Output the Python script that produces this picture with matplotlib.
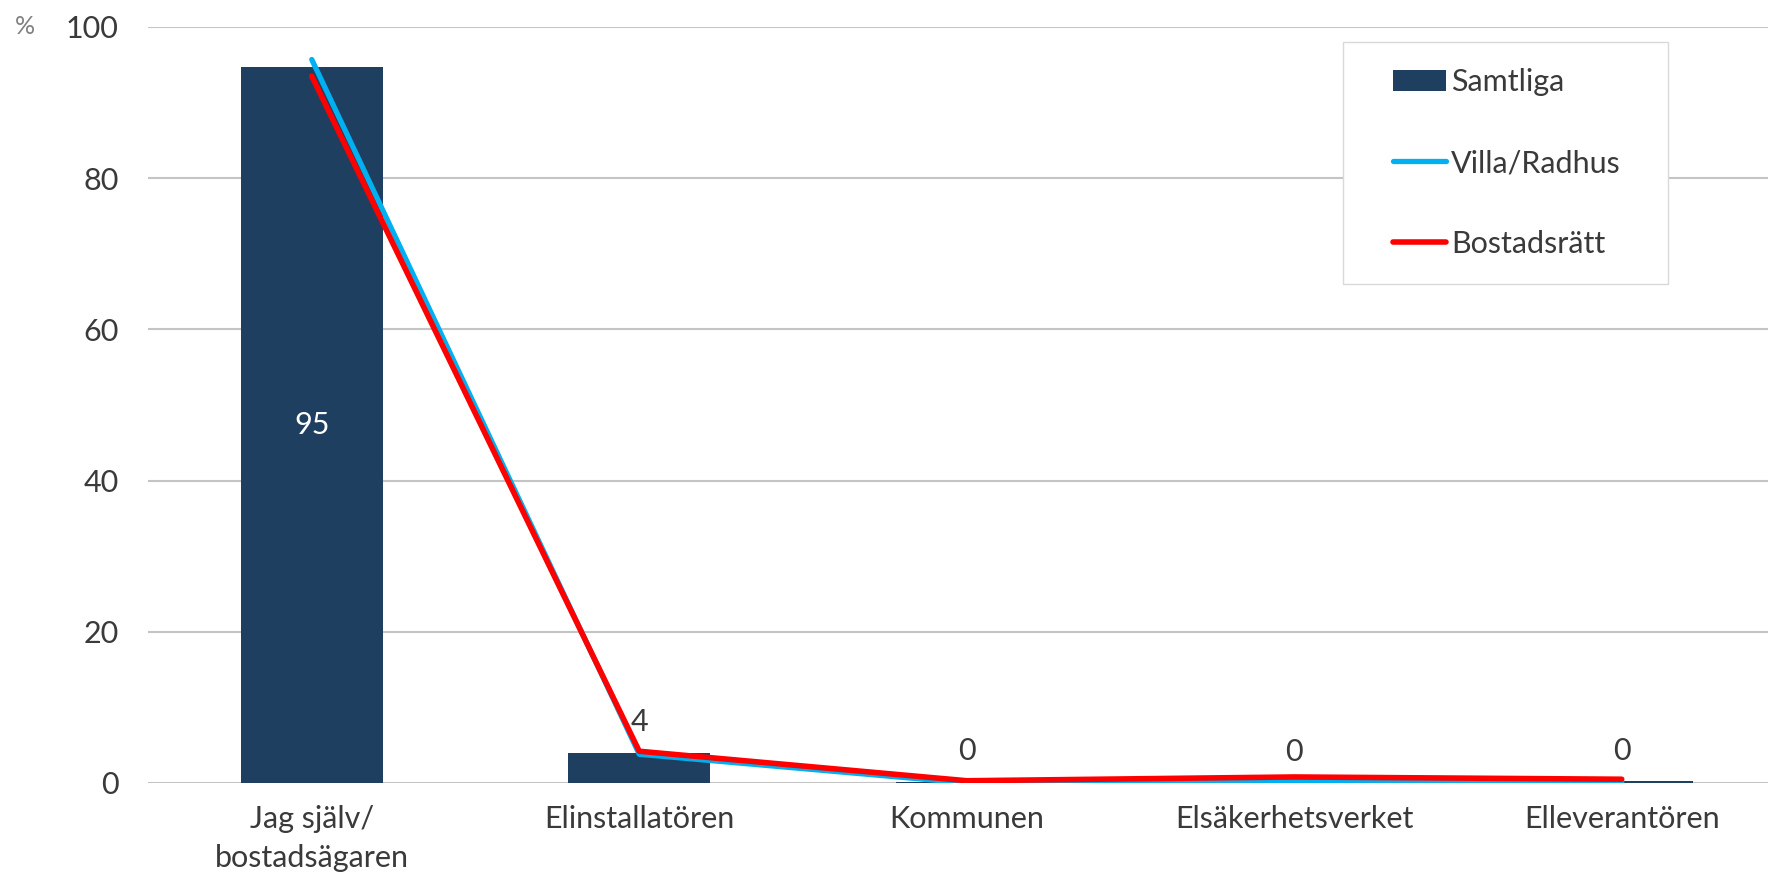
import matplotlib
matplotlib.use("Agg")
import matplotlib.pyplot as plt
from matplotlib.patches import Rectangle

plt.rcParams['font.family'] = ['Lato', 'DejaVu Sans']

categories = ["Jag själv/\nbostadsägaren", "Elinstallatören", "Kommunen", "Elsäkerhetsverket", "Elleverantören"]
samtliga = [94.7, 4.0, 0.15, 0.05, 0.2]
villa = [95.7, 3.8, 0.0, 0.2, 0.1]
bostadsratt = [93.5, 4.2, 0.3, 0.8, 0.5]
bar_labels = ["95", "4", "0", "0", "0"]
yticks = [0, 20, 40, 60, 80, 100]

W, H, DPI = 1768, 883, 100
FS = 22
fig = plt.figure(figsize=(W / DPI, H / DPI), dpi=DPI)
left = 148 / W
bottom = (H - 783) / H
top = (H - 27) / H
ax = fig.add_axes([left, bottom, 1 - left, top - bottom])

x = list(range(len(categories)))
text_color = "#3a3a3a"
bars = ax.bar(x, samtliga, width=0.434, color="#1F3F60", zorder=2, label="Samtliga")
l1, = ax.plot(x, villa, color="#00B0F0", lw=3.8, solid_capstyle="round", zorder=3, label="Villa/Radhus")
l2, = ax.plot(x, bostadsratt, color="#FF0000", lw=4.0, solid_capstyle="round", zorder=4, label="Bostadsrätt")

for i, (v, lab) in enumerate(zip(samtliga, bar_labels)):
    if i == 0:
        ax.text(i, v / 2, lab, ha="center", va="center", color="white", fontsize=FS, zorder=5)
    else:
        ax.text(i, v + 2.2, lab, ha="center", va="bottom", color=text_color, fontsize=FS, zorder=5)

ax.set_ylim(0, 100)
ax.set_xlim(-0.5, (W - 148) / 327.5 - 0.5)
ax.set_yticks(yticks)
ax.set_xticks(x)
ax.set_xticklabels(categories, fontsize=FS, color=text_color, linespacing=1.45)
ax.tick_params(axis="y", labelsize=FS, labelcolor=text_color, length=0, pad=21)
ax.tick_params(axis="x", length=0, pad=16)
ax.grid(axis="y", color="#c4c4c4", lw=1.5, zorder=0)
ax.set_axisbelow(True)
for s in ax.spines.values():
    s.set_visible(False)

fig.text(25 / W, (H - 27) / H, "%", ha="center", va="center", color="#808080", fontsize=18)

# legend box
box = Rectangle((1343 / W, (H - 284) / H), (1668 - 1343) / W, (284 - 42) / H,
                transform=fig.transFigure, facecolor="white", edgecolor="#d9d9d9",
                lw=1.0, zorder=9, clip_on=False)
ax.add_patch(box)

leg = ax.legend([bars, l1, l2], ["Samtliga", "Villa/Radhus", "Bostadsrätt"],
                loc="center left", bbox_to_anchor=(1393 / W, (H - 163) / H),
                bbox_transform=fig.transFigure,
                frameon=False, fontsize=FS, labelcolor=text_color,
                handlelength=1.73, handletextpad=0.16, labelspacing=1.72,
                borderpad=0, borderaxespad=0)
leg.set_zorder(10)

fig.savefig("out.png", dpi=DPI)
